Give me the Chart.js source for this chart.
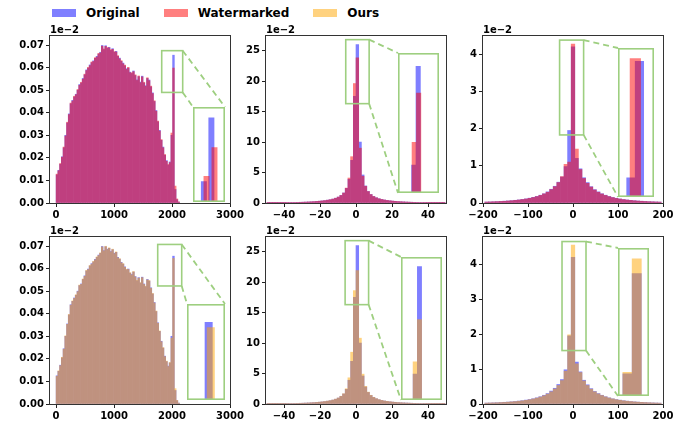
<!DOCTYPE html>
<html>
<head>
<meta charset="utf-8">
<script src="https://cdn.jsdelivr.net/npm/chart.js@4.4.1/dist/chart.umd.min.js"></script>
<style>
    body { margin: 0; background: #fff; }
    #fig { position: relative; width: 690px; height: 433px; overflow: hidden; font-family: 'DejaVu Sans', sans-serif; }
    #fig canvas { position: absolute; }
    .legend { position: absolute; left: 52px; top: 6px; display: flex; align-items: center; font-weight: bold; font-size: 12px; line-height: 14px; color: #000; }
    .legend .item { display: flex; align-items: center; margin-right: 24px; }
    .legend .patch { display: inline-block; width: 24px; height: 8px; margin-right: 10px; }
</style>
</head>
<body>
<div id="fig">
    <div class="legend">
        <div class="item"><span class="patch" style="background: rgba(0,0,255,0.5)"></span>Original</div>
        <div class="item"><span class="patch" style="background: rgba(255,0,0,0.5)"></span>Watermarked</div>
        <div class="item"><span class="patch" style="background: rgba(255,165,0,0.5)"></span>Ours</div>
    </div>
</div>
<script>
// ----------------- Data -----------------
// column A: pixel-value histogram (bin centres, width 30)
const binsA = [15, 45, 75, 105, 135, 165, 195, 225, 255, 285,
    315, 345, 375, 405, 435, 465, 495, 525, 555, 585,
    615, 645, 675, 705, 735, 765, 795, 825, 855, 885,
    915, 945, 975, 1005, 1035, 1065, 1095, 1125, 1155, 1185,
    1215, 1245, 1275, 1305, 1335, 1365, 1395, 1425, 1455, 1485,
    1515, 1545, 1575, 1605, 1635, 1665, 1695, 1725, 1755, 1785,
    1815, 1845, 1875, 1905, 1935, 1965, 1995, 2025, 2055, 2085,
    2115];
const origA = [0.0125, 0.0145, 0.0172, 0.0205, 0.0245, 0.0300, 0.0355, 0.0395, 0.0440, 0.0455,
    0.0470, 0.0482, 0.0500, 0.0525, 0.0532, 0.0552, 0.0568, 0.0590, 0.0598, 0.0612,
    0.0622, 0.0630, 0.0641, 0.0650, 0.0660, 0.0668, 0.0698, 0.0680, 0.0697, 0.0686,
    0.0690, 0.0676, 0.0684, 0.0668, 0.0672, 0.0650, 0.0642, 0.0628, 0.0620, 0.0608,
    0.0595, 0.0598, 0.0580, 0.0574, 0.0585, 0.0565, 0.0546, 0.0560, 0.0536, 0.0562,
    0.0532, 0.0520, 0.0552, 0.0545, 0.0515, 0.0488, 0.0450, 0.0410, 0.0360, 0.0322,
    0.0278, 0.0248, 0.0212, 0.0188, 0.0168, 0.0182, 0.0300, 0.0655, 0.0060, 0.0015,
    0.0004];
const wmA = [0.0128, 0.0143, 0.0175, 0.0203, 0.0248, 0.0297, 0.0358, 0.0392, 0.0443, 0.0452,
    0.0473, 0.0480, 0.0503, 0.0522, 0.0535, 0.0549, 0.0571, 0.0587, 0.0601, 0.0609,
    0.0625, 0.0627, 0.0644, 0.0647, 0.0663, 0.0665, 0.0695, 0.0683, 0.0694, 0.0689,
    0.0687, 0.0679, 0.0681, 0.0671, 0.0669, 0.0653, 0.0639, 0.0631, 0.0617, 0.0611,
    0.0592, 0.0601, 0.0577, 0.0577, 0.0582, 0.0568, 0.0543, 0.0563, 0.0533, 0.0559,
    0.0535, 0.0517, 0.0555, 0.0542, 0.0518, 0.0485, 0.0453, 0.0407, 0.0363, 0.0319,
    0.0281, 0.0245, 0.0215, 0.0185, 0.0171, 0.0179, 0.0310, 0.0598, 0.0075, 0.0018,
    0.0005];
const oursA = [0.0123, 0.0147, 0.0170, 0.0207, 0.0243, 0.0302, 0.0353, 0.0397, 0.0438, 0.0457,
    0.0468, 0.0484, 0.0498, 0.0527, 0.0530, 0.0554, 0.0566, 0.0592, 0.0596, 0.0614,
    0.0620, 0.0632, 0.0639, 0.0652, 0.0658, 0.0670, 0.0696, 0.0678, 0.0699, 0.0684,
    0.0692, 0.0674, 0.0686, 0.0666, 0.0674, 0.0648, 0.0644, 0.0626, 0.0622, 0.0606,
    0.0597, 0.0596, 0.0582, 0.0572, 0.0587, 0.0563, 0.0548, 0.0558, 0.0538, 0.0560,
    0.0530, 0.0522, 0.0550, 0.0547, 0.0513, 0.0490, 0.0448, 0.0412, 0.0358, 0.0324,
    0.0276, 0.0250, 0.0210, 0.0190, 0.0166, 0.0184, 0.0292, 0.0645, 0.0068, 0.0016,
    0.0004];

// column B: coefficient histogram (bin centres, width 1.5)
const binsB = [-48.75, -47.25, -45.75, -44.25, -42.75, -41.25, -39.75, -38.25, -36.75, -35.25, -33.75,
    -32.25, -30.75, -29.25, -27.75, -26.25, -24.75, -23.25, -21.75, -20.25, -18.75, -17.25,
    -15.75, -14.25, -12.75, -11.25, -9.75, -8.25, -6.75, -5.25, -3.75, -2.25, -0.75,
    0.75, 2.25, 3.75, 5.25, 6.75, 8.25, 9.75, 11.25, 12.75, 14.25, 15.75,
    17.25, 18.75, 20.25, 21.75, 23.25, 24.75, 26.25, 27.75, 29.25, 30.75, 32.25,
    33.75, 35.25, 36.75, 38.25, 39.75, 41.25, 42.75, 44.25, 45.75, 47.25, 48.75];
const origB = [0.030, 0.034, 0.038, 0.043, 0.048, 0.054, 0.060, 0.067, 0.075, 0.084, 0.094,
    0.106, 0.120, 0.136, 0.155, 0.176, 0.200, 0.228, 0.262, 0.302, 0.350, 0.405,
    0.470, 0.550, 0.650, 0.790, 0.980, 1.250, 1.650, 2.400, 3.900, 7.000, 17.50,
    26.00, 10.00, 4.600, 2.800, 1.900, 1.400, 1.080, 0.870, 0.710, 0.590, 0.500,
    0.430, 0.370, 0.320, 0.280, 0.240, 0.210, 0.185, 0.163, 0.143, 0.126, 0.111,
    0.098, 0.087, 0.077, 0.068, 0.061, 0.055, 0.049, 0.044, 0.040, 0.036, 0.032];
const wmB = [0.029, 0.033, 0.038, 0.042, 0.047, 0.053, 0.059, 0.066, 0.074, 0.083, 0.093,
    0.105, 0.118, 0.134, 0.153, 0.174, 0.197, 0.225, 0.259, 0.298, 0.346, 0.400,
    0.465, 0.545, 0.645, 0.785, 0.975, 1.240, 1.640, 2.450, 4.100, 7.600, 19.60,
    23.80, 9.000, 4.400, 2.750, 1.880, 1.390, 1.070, 0.860, 0.700, 0.585, 0.495,
    0.425, 0.366, 0.316, 0.276, 0.237, 0.207, 0.182, 0.161, 0.141, 0.124, 0.109,
    0.097, 0.086, 0.076, 0.067, 0.060, 0.054, 0.048, 0.043, 0.039, 0.035, 0.031];
const oursB = [0.030, 0.034, 0.039, 0.043, 0.048, 0.054, 0.061, 0.068, 0.076, 0.085, 0.095,
    0.107, 0.121, 0.137, 0.156, 0.178, 0.202, 0.230, 0.265, 0.305, 0.354, 0.410,
    0.476, 0.556, 0.658, 0.800, 0.990, 1.270, 1.690, 2.500, 4.300, 8.500, 18.60,
    21.90, 10.80, 4.900, 2.900, 1.950, 1.430, 1.100, 0.880, 0.720, 0.596, 0.505,
    0.434, 0.374, 0.323, 0.283, 0.243, 0.212, 0.187, 0.165, 0.145, 0.127, 0.112,
    0.099, 0.088, 0.078, 0.069, 0.062, 0.056, 0.050, 0.045, 0.041, 0.037, 0.033];

// column C: residual histogram (bin centres, width 8)
const binsC = [-192, -184, -176, -168, -160, -152, -144, -136, -128, -120, -112, -104,
    -96, -88, -80, -72, -64, -56, -48, -40, -32, -24, -16, -8,
    0,
    8, 16, 24, 32, 40, 48, 56, 64, 72, 80, 88, 96,
    104, 112, 120, 128, 136, 144, 152, 160, 168, 176, 184, 192];
const origC = [0.027, 0.030, 0.034, 0.038, 0.043, 0.049, 0.056, 0.064, 0.073, 0.084, 0.097, 0.112,
    0.130, 0.152, 0.178, 0.210, 0.250, 0.300, 0.370, 0.450, 0.560, 0.700, 0.980, 1.950,
    4.20,
    1.200, 0.920, 0.680, 0.550, 0.440, 0.360, 0.300, 0.250, 0.210, 0.177, 0.150, 0.128,
    0.110, 0.095, 0.082, 0.072, 0.063, 0.055, 0.048, 0.042, 0.037, 0.033, 0.029, 0.026];
const wmC = [0.026, 0.029, 0.033, 0.037, 0.042, 0.047, 0.054, 0.062, 0.071, 0.081, 0.094, 0.108,
    0.126, 0.148, 0.173, 0.205, 0.245, 0.290, 0.360, 0.440, 0.550, 0.710, 1.040, 1.100,
    4.27,
    1.450, 0.900, 0.660, 0.530, 0.430, 0.350, 0.290, 0.243, 0.204, 0.172, 0.146, 0.124,
    0.107, 0.092, 0.080, 0.070, 0.061, 0.053, 0.047, 0.041, 0.036, 0.032, 0.028, 0.025];
const oursC = [0.026, 0.029, 0.032, 0.036, 0.041, 0.046, 0.053, 0.061, 0.069, 0.080, 0.092, 0.106,
    0.123, 0.145, 0.170, 0.200, 0.238, 0.285, 0.350, 0.430, 0.530, 0.670, 0.940, 1.980,
    4.55,
    1.150, 0.900, 0.660, 0.530, 0.425, 0.350, 0.290, 0.243, 0.204, 0.172, 0.146, 0.124,
    0.107, 0.092, 0.080, 0.070, 0.061, 0.053, 0.047, 0.041, 0.036, 0.032, 0.028, 0.025];

// zoomed-in bars shown in the insets: [bin centre, height]
const zoomTopA_orig = [[1945, 0.053], [2030, 0.0654]];
const zoomTopA_wm = [[1975, 0.054], [2065, 0.0596]];
const zoomTopB_orig = [[-0.7, 18.4], [0.7, 25.8]];
const zoomTopB_wm = [[-0.55, 20.1], [0.85, 23.8]];
const zoomTopC_orig = [[-10.6, 2.16], [2, 4.15]];
const zoomTopC_wm = [[-4.1, 4.2]];
const zoomBotA_orig = [[1989, 0.0672]];
const zoomBotA_ours = [[2012, 0.0662]];
const zoomBotB_orig = [[-1.53, 18.2], [-0.17, 26.1]];
const zoomBotB_ours = [[-1.53, 19.1], [-0.17, 22.2]];
const zoomBotC_orig = [[-8.2, 2.0], [7.8, 4.11]];
const zoomBotC_ours = [[-8.2, 2.03], [7.8, 4.42]];
// inset bin widths [original, other]
const zoomWidths = [[60, 60], [1.4, 1.4], [12.6, 15.6], [80, 80], [1.35, 1.35], [15.8, 15.8]];
// inset data limits [xmin, xmax, ymin, ymax]
const zoomLimits = [[1822, 2184, 0.049, 0.0675], [-5.7, 7.3, 16.3, 26.8], [-29.8, 23.6, 1.83, 4.38],
    [1753, 2167, 0.0523, 0.0707], [-6.05, 7.0, 16.3, 26.8], [-24.4, 28.9, 1.53, 4.65]];

// tick labels
const xTicksA = [0, 1000, 2000, 3000];
const xTicksB = [-40, -20, 0, 20, 40];
const xTicksC = [-200, -100, 0, 100, 200];
const yTicksA = [0, 0.01, 0.02, 0.03, 0.04, 0.05, 0.06, 0.07];
const yTicksB = [0, 5, 10, 15, 20, 25];
const yTicksC = [0, 1, 2, 3, 4];

// ----------------- Layout / style -----------------
// bars are painted opaque on a layer, the layer is laid down at 50% (like alpha=0.5 in mpl)
const COLORS = { orig: 'rgb(0,0,255)', wm: 'rgb(255,0,0)', ours: 'rgb(255,165,0)' };
const ALPHA = 0.5;
const GREEN = 'rgb(158,207,128)';
const TICK_FONT = { family: 'DejaVu Sans', size: 10, weight: 'bold' };
const axLefts = [50, 266, 483];
const axTops = [36, 237];
// inset boxes on the page [left, top, width, height]
const insetBoxes = [[193, 107, 32, 95], [398, 53, 41, 140], [618, 48, 36, 149],
    [187, 304, 38, 96], [401, 257, 41, 143], [618, 248, 31, 148]];

const fig = document.getElementById('fig');
const minus = v => String(v).replace('-', '\u2212');

// each dataset is drawn onto its own layer, then blended at ALPHA -> no seams between bins
const alphaLayer = {
    id: 'alphaLayer',
    beforeDatasetDraw(chart, args) {
        const ctrl = args.meta.controller;
        if (!ctrl || !ctrl._ctx) return;
        if (!chart.$layer) {
            chart.$layer = document.createElement('canvas');
            chart.$layer.width = chart.width;
            chart.$layer.height = chart.height;
        }
        const lctx = chart.$layer.getContext('2d');
        lctx.clearRect(0, 0, chart.$layer.width, chart.$layer.height);
        ctrl._ctx = lctx;
    },
    afterDatasetDraw(chart, args) {
        const ctrl = args.meta.controller;
        if (!chart.$layer || !ctrl || ctrl._ctx === chart.ctx) return;
        const a = chart.chartArea;
        const w = a.right - a.left, h = a.bottom - a.top;
        const ctx = chart.ctx;
        ctx.save();
        ctx.globalAlpha = ALPHA;
        ctx.drawImage(chart.$layer, a.left, a.top, w, h, a.left, a.top, w, h);
        ctx.restore();
        ctrl._ctx = ctx;
    }
};

function makePanel(p) {
    const cv = document.createElement('canvas');
    const cLeft = p.left - 50, cTop = p.top - 22;
    cv.width = 246;
    cv.height = 213;
    cv.style.left = cLeft + 'px';
    cv.style.top = cTop + 'px';
    fig.appendChild(cv);

    const toXY = vals => vals.map((v, i) => ({ x: p.bins[i], y: v }));
    const barOpts = { grouped: false, barPercentage: 1, categoryPercentage: 1, borderWidth: 0 };

    const decor = {
        id: 'decor',
        afterDatasetsDraw(chart) {
            const { ctx, chartArea: a, scales: { x, y } } = chart;
            ctx.save();
            // axes frame
            ctx.strokeStyle = '#333';
            ctx.lineWidth = 1;
            ctx.strokeRect(a.left - 0.5, a.top - 0.5, a.right - a.left + 1, a.bottom - a.top + 1);
            // offset text
            ctx.fillStyle = '#000';
            ctx.font = 'bold 10px "DejaVu Sans"';
            ctx.textBaseline = 'alphabetic';
            ctx.fillText('1e\u22122', a.left, a.top - 3);
            // zoom source box
            const [x0, x1, y0, y1] = p.zoom;
            const L = x.getPixelForValue(x0), R = x.getPixelForValue(x1);
            const T = y.getPixelForValue(y1), B = y.getPixelForValue(y0);
            ctx.strokeStyle = GREEN;
            ctx.lineWidth = 1.6;
            ctx.strokeRect(L, T, R - L, B - T);
            // dashed connectors to the inset
            const [ix, iy, iw, ih] = p.inset;
            const il = ix - cLeft, it = iy - cTop, ir = il + iw, ib = it + ih;
            ctx.setLineDash([6, 4]);
            ctx.lineWidth = 1.8;
            const seg = (ax, ay, bx, by) => {
                ctx.beginPath();
                ctx.moveTo(ax, ay);
                ctx.lineTo(bx, by);
                ctx.stroke();
            };
            if (p.link === 'below') {
                seg(R, T, ir, it);
                seg(R, B, il, it);
            } else {
                seg(R, T, il, it);
                seg(R, B, il, ib);
            }
            ctx.restore();
        }
    };

    new Chart(cv, {
        type: 'bar',
        data: {
            datasets: [
                { label: p.otherLabel, data: toXY(p.other), backgroundColor: p.otherColor, order: 1, ...barOpts },
                { label: 'Original', data: toXY(p.orig), backgroundColor: COLORS.orig, order: 2, ...barOpts }
            ]
        },
        options: {
            responsive: false,
            animation: false,
            devicePixelRatio: 1,
            layout: { padding: { top: 22, right: 16, left: 0, bottom: 0 } },
            plugins: { legend: { display: false }, tooltip: { enabled: false } },
            scales: {
                x: {
                    type: 'linear', min: p.xMin, max: p.xMax, offset: false,
                    grid: { offset: false, drawOnChartArea: false, tickLength: 4, color: '#222' },
                    border: { display: false },
                    afterBuildTicks: s => { s.ticks = p.xTicks.map(v => ({ value: v })); },
                    afterFit: s => { s.height = 24; },
                    ticks: { font: TICK_FONT, color: '#000', padding: 2, maxRotation: 0, autoSkip: false, callback: v => minus(v) }
                },
                y: {
                    type: 'linear', min: 0, max: p.yMax,
                    grid: { drawOnChartArea: false, tickLength: 4, color: '#222' },
                    border: { display: false },
                    afterBuildTicks: s => { s.ticks = p.yTicks.map(v => ({ value: v })); },
                    afterFit: s => { s.width = 50; },
                    ticks: { font: TICK_FONT, color: '#000', padding: 2, autoSkip: false, callback: p.yFmt }
                }
            }
        },
        plugins: [alphaLayer, decor]
    });
}

function makeInset(p) {
    const [ix, iy, iw, ih] = p.inset;
    const cv = document.createElement('canvas');
    cv.width = iw;
    cv.height = ih;
    cv.style.left = ix + 'px';
    cv.style.top = iy + 'px';
    cv.style.background = '#fff';
    fig.appendChild(cv);

    const [x0, x1, y0, y1] = p.zoom;
    const pxPerUnit = iw / (x1 - x0);
    const toXY = pairs => pairs.map(([x, y]) => ({ x, y }));

    new Chart(cv, {
        type: 'bar',
        data: {
            datasets: [
                { data: toXY(p.zOther), backgroundColor: p.otherColor, order: 1, grouped: false,
                  borderWidth: 0, barThickness: p.zWidth[1] * pxPerUnit },
                { data: toXY(p.zOrig), backgroundColor: COLORS.orig, order: 2, grouped: false,
                  borderWidth: 0, barThickness: p.zWidth[0] * pxPerUnit }
            ]
        },
        options: {
            responsive: false,
            animation: false,
            devicePixelRatio: 1,
            layout: { padding: 0 },
            plugins: { legend: { display: false }, tooltip: { enabled: false } },
            scales: {
                x: { type: 'linear', min: x0, max: x1, display: false, offset: false, grid: { offset: false } },
                y: { type: 'linear', min: y0, max: y1, display: false }
            }
        },
        plugins: [alphaLayer, {
            id: 'insetFrame',
            afterDraw(chart) {
                const ctx = chart.ctx;
                ctx.save();
                ctx.strokeStyle = GREEN;
                ctx.lineWidth = 1.6;
                ctx.strokeRect(0.8, 0.8, iw - 1.6, ih - 1.6);
                ctx.restore();
            }
        }]
    });
}

// ----------------- Build the grid -----------------
const fmt2 = v => v.toFixed(2);
const fmt0 = v => String(v);
const panels = [
    { left: axLefts[0], top: axTops[0], bins: binsA, orig: origA, other: wmA, otherColor: COLORS.wm, otherLabel: 'Watermarked',
      xMin: -105, xMax: 3000, yMax: 0.074, xTicks: xTicksA, yTicks: yTicksA, yFmt: fmt2,
      zoom: zoomLimits[0], inset: insetBoxes[0], link: 'below', zOrig: zoomTopA_orig, zOther: zoomTopA_wm, zWidth: zoomWidths[0] },
    { left: axLefts[1], top: axTops[0], bins: binsB, orig: origB, other: wmB, otherColor: COLORS.wm, otherLabel: 'Watermarked',
      xMin: -50, xMax: 50, yMax: 27.4, xTicks: xTicksB, yTicks: yTicksB, yFmt: fmt0,
      zoom: zoomLimits[1], inset: insetBoxes[1], link: 'side', zOrig: zoomTopB_orig, zOther: zoomTopB_wm, zWidth: zoomWidths[1] },
    { left: axLefts[2], top: axTops[0], bins: binsC, orig: origC, other: wmC, otherColor: COLORS.wm, otherLabel: 'Watermarked',
      xMin: -200, xMax: 200, yMax: 4.49, xTicks: xTicksC, yTicks: yTicksC, yFmt: fmt0,
      zoom: zoomLimits[2], inset: insetBoxes[2], link: 'side', zOrig: zoomTopC_orig, zOther: zoomTopC_wm, zWidth: zoomWidths[2] },
    { left: axLefts[0], top: axTops[1], bins: binsA, orig: origA, other: oursA, otherColor: COLORS.ours, otherLabel: 'Ours',
      xMin: -105, xMax: 3000, yMax: 0.074, xTicks: xTicksA, yTicks: yTicksA, yFmt: fmt2,
      zoom: zoomLimits[3], inset: insetBoxes[3], link: 'below', zOrig: zoomBotA_orig, zOther: zoomBotA_ours, zWidth: zoomWidths[3] },
    { left: axLefts[1], top: axTops[1], bins: binsB, orig: origB, other: oursB, otherColor: COLORS.ours, otherLabel: 'Ours',
      xMin: -50, xMax: 50, yMax: 27.4, xTicks: xTicksB, yTicks: yTicksB, yFmt: fmt0,
      zoom: zoomLimits[4], inset: insetBoxes[4], link: 'side', zOrig: zoomBotB_orig, zOther: zoomBotB_ours, zWidth: zoomWidths[4] },
    { left: axLefts[2], top: axTops[1], bins: binsC, orig: origC, other: oursC, otherColor: COLORS.ours, otherLabel: 'Ours',
      xMin: -200, xMax: 200, yMax: 4.78, xTicks: xTicksC, yTicks: yTicksC, yFmt: fmt0,
      zoom: zoomLimits[5], inset: insetBoxes[5], link: 'side', zOrig: zoomBotC_orig, zOther: zoomBotC_ours, zWidth: zoomWidths[5] }
];

panels.forEach(makePanel);
panels.forEach(makeInset);
</script>
</body>
</html>
